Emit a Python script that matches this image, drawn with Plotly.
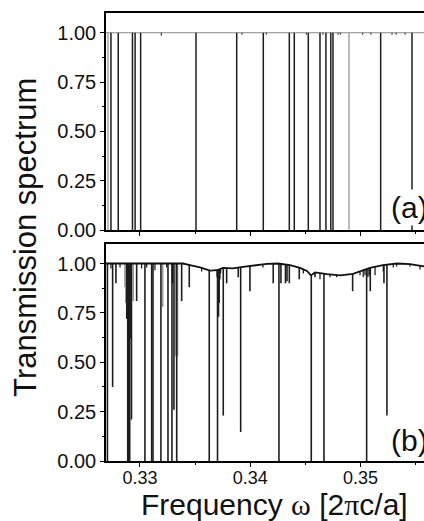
import plotly.graph_objects as go

# ---------------- data ----------------
# panel (a): resonance dips, all reaching zero transmission
a_dark_f = [0.32737, 0.32803, 0.32932, 0.32956, 0.33006, 0.33508, 0.33877,
            0.34118, 0.34354, 0.34399, 0.34526, 0.34632, 0.34686, 0.34730,
            0.34750, 0.35182, 0.35466]
a_dark_t = [0.0] * len(a_dark_f)
a_light_f = [0.32710, 0.34895]
a_light_t = [0.0, 0.0]
a_small_f = [0.33193, 0.33925, 0.34145, 0.34508, 0.34659, 0.34795, 0.34816,
             0.35019, 0.35094, 0.35285, 0.35322, 0.35404]
a_small_t = [0.985, 0.99, 0.99, 0.99, 0.99, 0.99, 0.99, 0.99, 0.99, 0.99,
             0.99, 0.99]

# panel (b): smooth background transmission
b_base_f = [0.32692, 0.33390, 0.33453, 0.33544, 0.33635, 0.33698, 0.33752,
            0.33843, 0.33934, 0.34061, 0.34151, 0.34251, 0.34360, 0.34451,
            0.34514, 0.34550, 0.34587, 0.34695, 0.34813, 0.34931, 0.35022,
            0.35085, 0.35203, 0.35330, 0.35448, 0.35575]
b_base_t = [1.0, 1.0, 0.992, 0.98, 0.964, 0.966, 0.978, 0.975, 0.983, 0.992,
            0.998, 1.0, 0.992, 0.978, 0.962, 0.940, 0.955, 0.946, 0.940,
            0.948, 0.965, 0.978, 0.992, 1.0, 0.997, 0.985]

# panel (b): dark resonance dips
b_dark_f = [0.32705, 0.32752, 0.32782, 0.32880, 0.32889, 0.32895, 0.32901,
            0.32907, 0.32913, 0.32923, 0.32970, 0.33045, 0.33106, 0.33118,
            0.33190, 0.33254, 0.33290, 0.33308, 0.33333, 0.33378, 0.33447,
            0.33628, 0.33700, 0.33703, 0.33706, 0.33712, 0.33718, 0.33724,
            0.33730, 0.33755, 0.33786, 0.33891, 0.33913, 0.33997, 0.34208,
            0.34260, 0.34278, 0.34319, 0.34333, 0.34354, 0.34444, 0.34553,
            0.34587, 0.34668, 0.34928, 0.35055, 0.35088, 0.35212, 0.35239]
b_dark_t = [0.0, 0.375, 0.90, 0.72, 0.0, 0.0, 0.0,
            0.0, 0.62, 0.21, 0.81, 0.0, 0.0, 0.0,
            0.0, 0.0, 0.0, 0.26, 0.0, 0.81, 0.88,
            0.0, 0.93, 0.0, 0.90, 0.73, 0.80, 0.92,
            0.95, 0.23, 0.90, 0.93, 0.147, 0.86, 0.90,
            0.0, 0.90, 0.90, 0.91, 0.90, 0.92, 0.0,
            0.93, 0.0, 0.86, 0.0, 0.86, 0.90, 0.23]
# panel (b): light grey dips
b_light_f = [0.32864, 0.32872, 0.32939, 0.33206, 0.33322, 0.33340]
b_light_t = [0.88, 0.80, 0.81, 0.78, 0.53, 0.53]
# panel (b): small dips riding on the background
b_small_f = [0.32737, 0.32819, 0.33015, 0.33061, 0.33136, 0.33242, 0.33295,
             0.33559, 0.34115, 0.34481, 0.34632, 0.34723, 0.34783, 0.34995,
             0.35024, 0.35040, 0.35067, 0.35079, 0.35131, 0.35206, 0.35296,
             0.35327, 0.35448, 0.35539]
b_small_t = [0.975, 0.98, 0.975, 0.98, 0.966, 0.98, 0.90,
             0.96, 0.98, 0.95, 0.92, 0.93, 0.93, 0.94,
             0.93, 0.94, 0.93, 0.94, 0.94, 0.96, 0.98,
             0.985, 0.985, 0.97]

x_range = [0.32692, 0.35575]
y_range = [0.0, 1.1]
y_ticks = [0.0, 0.25, 0.5, 0.75, 1.0]
x_ticks = [0.33, 0.34, 0.35]
panel_labels = ["(a)", "(b)"]

# ---------------- helpers ----------------
def segments(freqs, depths, top=1.0):
    xs, ys = [], []
    for f, d in zip(freqs, depths):
        xs += [f, f, None]
        ys += [top, d, None]
    return xs, ys

DARK = "#1e1e1e"
LIGHT = "#9a9a9a"

fig = go.Figure()

def add_dips(freqs, depths, color, width, xa, ya):
    xs, ys = segments(freqs, depths)
    fig.add_trace(go.Scatter(x=xs, y=ys, mode="lines", xaxis=xa, yaxis=ya,
                             line=dict(color=color, width=width),
                             hoverinfo="skip", showlegend=False))

# panel (a)
fig.add_trace(go.Scatter(x=x_range, y=[1.0, 1.0], mode="lines", xaxis="x", yaxis="y",
                         line=dict(color="#8a8a8a", width=1), showlegend=False))
add_dips(a_light_f, a_light_t, LIGHT, 1.3, "x", "y")
add_dips(a_dark_f, a_dark_t, DARK, 1.5, "x", "y")
add_dips(a_small_f, a_small_t, DARK, 1.0, "x", "y")

# panel (b)
add_dips(b_light_f, b_light_t, LIGHT, 1.6, "x2", "y2")
add_dips(b_dark_f, b_dark_t, DARK, 1.6, "x2", "y2")
add_dips(b_small_f, b_small_t, "#111111", 1.2, "x2", "y2")
# white mask above the background curve
mask_x = b_base_f + [b_base_f[-1], b_base_f[0]]
mask_y = b_base_t + [y_range[1], y_range[1]]
fig.add_trace(go.Scatter(x=mask_x, y=mask_y, mode="lines", fill="toself",
                         fillcolor="white", line=dict(width=0), xaxis="x2", yaxis="y2",
                         hoverinfo="skip", showlegend=False))
fig.add_trace(go.Scatter(x=b_base_f, y=b_base_t, mode="lines", xaxis="x2", yaxis="y2",
                         line=dict(color="#111111", width=1.8), showlegend=False))

FONT = "Liberation Sans, Arial, sans-serif"

xcommon = dict(range=x_range, showline=True, linecolor="black", linewidth=1.5,
               mirror=True, ticks="outside", ticklen=4, tickwidth=1, tickcolor="black",
               tickvals=x_ticks, showgrid=False, zeroline=False,
               minor=dict(dtick=0.005, tick0=0.325, ticks="outside", ticklen=2.5,
                          tickcolor="black", showgrid=False))
ycommon = dict(range=y_range, showline=True, linecolor="black", linewidth=1.5,
               ticks="outside", ticklen=4, tickwidth=1, tickcolor="black",
               tickvals=y_ticks, tickformat=".2f", showgrid=False, zeroline=False,
               tickfont=dict(size=20, color="#111111", family=FONT),
               minor=dict(dtick=0.125, tick0=0, ticks="outside", ticklen=2.5,
                          tickcolor="black", showgrid=False))

fig.update_layout(
    width=424, height=521,
    margin=dict(l=106, r=0, t=13, b=60),
    paper_bgcolor="white", plot_bgcolor="white",
    font=dict(family=FONT, color="#111111"),
    showlegend=False,
    xaxis=dict(**xcommon, anchor="y", showticklabels=False, domain=[0, 1]),
    yaxis=dict(**ycommon, anchor="x", domain=[0.5153, 1.0]),
    xaxis2=dict(**xcommon, anchor="y2", matches="x", showticklabels=True,
                tickformat=".2f", ticklabelstandoff=-4,
                tickfont=dict(size=18, color="#111111", family=FONT)),
    yaxis2=dict(**ycommon, anchor="x2", domain=[0.0, 0.4849]),
)

annotations = [
    dict(text=panel_labels[0], xref="paper", yref="paper", x=0.89, y=0.565,
         xanchor="left", yanchor="middle", showarrow=False, bgcolor="white",
         font=dict(size=30, color="#111111", family=FONT)),
    dict(text=panel_labels[1], xref="paper", yref="paper", x=0.89, y=0.045,
         xanchor="left", yanchor="middle", showarrow=False, bgcolor="white",
         font=dict(size=30, color="#111111", family=FONT)),
    dict(text="Transmission spectrum", xref="paper", yref="paper", x=-0.255, y=0.5,
         xanchor="center", yanchor="middle", textangle=-90, showarrow=False,
         font=dict(size=31, color="#111111", family=FONT)),
    dict(text="Frequency <span style='font-family:Liberation Serif'>ω</span> "
              "[2<span style='font-family:Liberation Serif'>π</span>c/a]",
         xref="paper", yref="paper", x=0.531, y=-0.098,
         xanchor="center", yanchor="middle", showarrow=False,
         font=dict(size=30, color="#111111", family=FONT)),
]
fig.update_layout(annotations=annotations)

fig.write_html("out.html")
